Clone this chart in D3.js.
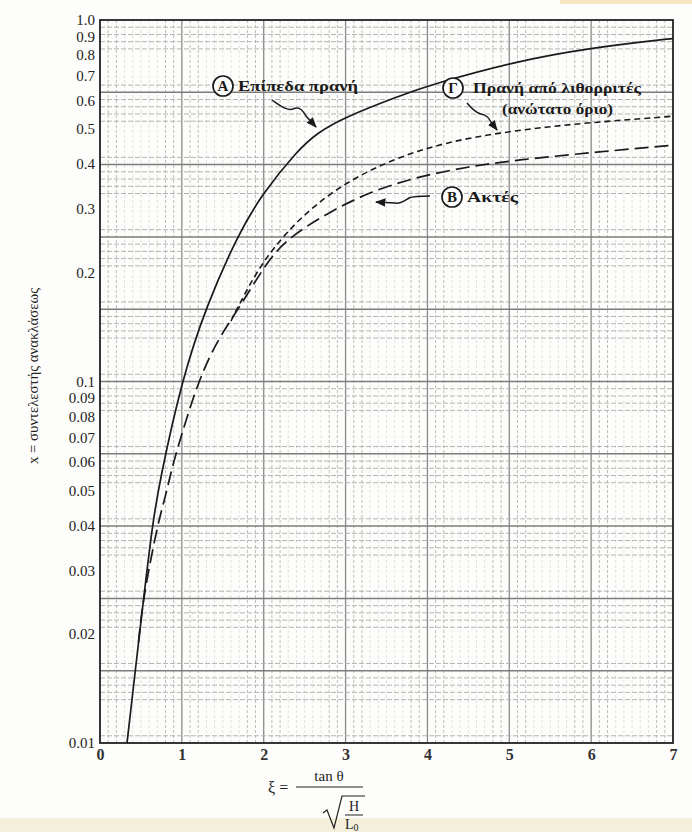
<!DOCTYPE html>
<html>
<head>
<meta charset="utf-8">
<script src="https://cdn.jsdelivr.net/npm/d3@7"></script>
<style>
  html, body { margin: 0; padding: 0; background: #fdfdfb; }
  svg { display: block; }
</style>
</head>
<body>
<svg id="chart" width="692" height="832"></svg>
<script>
// ---------------- data ----------------
const xTicks = [0, 1, 2, 3, 4, 5, 6, 7];
const yTickValues = [1.0, 0.9, 0.8, 0.7, 0.6, 0.5, 0.4, 0.3, 0.2, 0.1, 0.09, 0.08, 0.07, 0.06, 0.05, 0.04, 0.03, 0.02, 0.01];
const yTickLabels = ["1.0", "0.9", "0.8", "0.7", "0.6", "0.5", "0.4", "0.3", "0.2", "0.1", "0.09", "0.08", "0.07", "0.06", "0.05", "0.04", "0.03", "0.02", "0.01"];

// Curve A – smooth slopes (solid)
const xiA  = [0.33, 0.436, 0.53, 0.644, 0.733, 1.0, 1.295, 1.686, 1.98, 2.41, 2.65, 3.0, 3.66, 4.03, 5.09, 5.99, 6.94, 7.0];
const chiA = [0.010, 0.0162, 0.0248, 0.0408, 0.0536, 0.101, 0.161, 0.255, 0.33, 0.435, 0.487, 0.54, 0.617, 0.661, 0.77, 0.837, 0.886, 0.888];

// Curve B – beaches (long dash)
const xiB  = [0.47, 0.53, 0.71, 0.79, 0.855, 0.92, 1.2, 1.45, 1.71, 2.08, 2.36, 2.81, 3.3, 3.87, 4.5, 5.09, 6.1, 6.93, 7.0];
const chiB = [0.019, 0.0255, 0.0408, 0.0472, 0.0545, 0.0625, 0.101, 0.132, 0.161, 0.222, 0.255, 0.295, 0.335, 0.368, 0.393, 0.41, 0.432, 0.449, 0.45];

// Curve Γ – rubble mound slopes, upper limit (short dash)
const xiG  = [1.6, 1.75, 2.08, 2.81, 3.87, 4.89, 5.9, 6.93, 7.0];
const chiG = [0.147, 0.172, 0.234, 0.343, 0.443, 0.49, 0.519, 0.54, 0.542];

// ---------------- layout ----------------
const svg = d3.select("#chart");
const W = 692, H = 832;
const mLeft = 100, mRight = 673, mTop = 20, mBottom = 743;

const x = d3.scaleLinear().domain([0, 7]).range([mLeft, mRight]);
const y = d3.scaleLog().domain([0.01, 1]).range([mBottom, mTop]);

// paper tone strips (scan edges)
svg.append("rect").attr("x", 0).attr("y", 0).attr("width", W).attr("height", H).attr("fill", "#fdfdfb");
svg.append("rect").attr("x", 0).attr("y", 818).attr("width", W).attr("height", 14).attr("fill", "#f4f0dc");
svg.append("rect").attr("x", 560).attr("y", 0).attr("width", 132).attr("height", 4).attr("fill", "#f7e7c2");

const grid = svg.append("g");

// vertical minor grid (every 0.1)
const vMinor = d3.range(1, 70).map(i => i / 10).filter(v => Math.abs(v - Math.round(v)) > 1e-6);
grid.selectAll("line.vmin").data(vMinor).enter().append("line")
  .attr("x1", d => x(d)).attr("x2", d => x(d))
  .attr("y1", mTop).attr("y2", mBottom)
  .attr("stroke", d => {
    const f = Math.round((d - Math.floor(d)) * 10);
    return (f === 1 || f === 2 || f === 8 || f === 9) ? "#bdbdbd" : "#e2e2e2";
  })
  .attr("stroke-width", 1)
  .attr("stroke-dasharray", "3,2");

// vertical major grid (integers)
grid.selectAll("line.vmaj").data(xTicks.slice(1, -1)).enter().append("line")
  .attr("x1", d => x(d)).attr("x2", d => x(d))
  .attr("y1", mTop).attr("y2", mBottom)
  .attr("stroke", "#8a8a8a").attr("stroke-width", 1.3);

// horizontal grid: thick lines every 0.2 decade, clusters of thinner lines nearby
const hMajorExp = d3.range(1, 10).map(k => -0.2 * k);
const hMinorExp = [];
hMajorExp.concat([0, -2]).forEach(m => {
  [0.02, -0.02, -0.04, -0.06, -0.08].forEach(o => {
    const e = m + o;
    if (e < 0 && e > -2) hMinorExp.push(e);
  });
});
grid.selectAll("line.hmin").data(hMinorExp).enter().append("line")
  .attr("x1", mLeft).attr("x2", mRight)
  .attr("y1", d => y(Math.pow(10, d))).attr("y2", d => y(Math.pow(10, d)))
  .attr("stroke", "#b4b4b4").attr("stroke-width", 1)
  .attr("stroke-dasharray", "5,2");
grid.selectAll("line.hmaj").data(hMajorExp).enter().append("line")
  .attr("x1", mLeft).attr("x2", mRight)
  .attr("y1", d => y(Math.pow(10, d))).attr("y2", d => y(Math.pow(10, d)))
  .attr("stroke", "#7c7c7c").attr("stroke-width", 1.5);

// frame
svg.append("rect").attr("x", mLeft).attr("y", mTop)
  .attr("width", mRight - mLeft).attr("height", mBottom - mTop)
  .attr("fill", "none").attr("stroke", "#222").attr("stroke-width", 1.8);

// axes (labels only, via d3 axes)
const serif = "'Liberation Serif', 'DejaVu Serif', serif";
const yAxis = d3.axisLeft(y).tickValues(yTickValues)
  .tickFormat((d, i) => yTickLabels[i]).tickSize(0).tickPadding(5);
const gy = svg.append("g").attr("transform", `translate(${mLeft},0)`).call(yAxis);
gy.select(".domain").remove();
gy.selectAll("text").attr("font-family", serif).attr("font-size", 15).attr("fill", "#222");

const xAxis = d3.axisBottom(x).tickValues(xTicks).tickFormat(d3.format("d")).tickSize(0).tickPadding(6);
const gx = svg.append("g").attr("transform", `translate(0,${mBottom})`).call(xAxis);
gx.select(".domain").remove();
gx.selectAll("text").attr("font-family", serif).attr("font-size", 16).attr("font-weight", "bold").attr("fill", "#333");

// curves
const line = d3.line().x(d => x(d[0])).y(d => y(d[1])).curve(d3.curveBasis);
const dataA = xiA.map((v, i) => [v, chiA[i]]);
const dataB = xiB.map((v, i) => [v, chiB[i]]);
const dataG = xiG.map((v, i) => [v, chiG[i]]);

svg.append("path").attr("d", line(dataA)).attr("fill", "none")
  .attr("stroke", "#1a1a1a").attr("stroke-width", 1.7);
svg.append("path").attr("d", line(dataB)).attr("fill", "none")
  .attr("stroke", "#1a1a1a").attr("stroke-width", 1.7).attr("stroke-dasharray", "14,6");
svg.append("path").attr("d", line(dataG)).attr("fill", "none")
  .attr("stroke", "#1a1a1a").attr("stroke-width", 1.6).attr("stroke-dasharray", "6,4");

// annotations
const defs = svg.append("defs");
defs.append("marker").attr("id", "ah").attr("viewBox", "0 0 10 10")
  .attr("refX", 9).attr("refY", 5).attr("markerWidth", 7).attr("markerHeight", 7)
  .attr("orient", "auto-start-reverse")
  .append("path").attr("d", "M0,1 L10,5 L0,9 Z").attr("fill", "#1a1a1a");

const ann = svg.append("g").attr("font-family", serif).attr("fill", "#1a1a1a");

function badge(cx, cy, letter) {
  ann.append("circle").attr("cx", cx).attr("cy", cy).attr("r", 10)
    .attr("fill", "#fdfdfb").attr("stroke", "#1a1a1a").attr("stroke-width", 1.7);
  ann.append("text").attr("x", cx).attr("y", cy + 5.3).attr("text-anchor", "middle")
    .attr("font-size", 15).attr("font-weight", "bold").text(letter);
}
function label(x0, y0, txt, len) {
  ann.append("text").attr("x", x0).attr("y", y0).attr("font-size", 15)
    .attr("font-weight", "bold").attr("textLength", len).attr("lengthAdjust", "spacingAndGlyphs").text(txt);
}

badge(223, 86, "A");
label(238, 91, "Επίπεδα πρανή", 120);
badge(453, 88, "Γ");
label(473, 93, "Πρανή από λιθορριτές", 168);
label(502, 114, "(ανώτατο όριο)", 111);
badge(452, 197, "B");
label(467, 202, "Ακτές", 51);

const arrowStyle = p => p.attr("fill", "none").attr("stroke", "#1a1a1a").attr("stroke-width", 1.5).attr("marker-end", "url(#ah)");
arrowStyle(ann.append("path").attr("d", "M272,100 C281,106 287,111 293,109 C300,106 303,111 306,116 L316,127"));
arrowStyle(ann.append("path").attr("d", "M467,103 C472,109 476,113 481,114 C487,115 489,118 491,122 L497,130"));
arrowStyle(ann.append("path").attr("d", "M430,196 C421,196 414,196 409,198 C404,201 401,204 395,203 L376,202"));

// axis titles
svg.append("text")
  .attr("transform", "translate(38,376) rotate(-90)")
  .attr("text-anchor", "middle").attr("font-family", serif).attr("font-size", 15)
  .attr("textLength", 176).attr("lengthAdjust", "spacingAndGlyphs")
  .attr("fill", "#222").text("x = συντελεστής ανακλάσεως");

const xl = svg.append("g").attr("font-family", serif).attr("fill", "#222");
xl.append("text").attr("x", 268).attr("y", 793).attr("font-size", 16).text("ξ =");
xl.append("text").attr("x", 329).attr("y", 781).attr("text-anchor", "middle").attr("font-size", 15).text("tan θ");
xl.append("line").attr("x1", 296).attr("x2", 363).attr("y1", 787).attr("y2", 787).attr("stroke", "#222").attr("stroke-width", 1.1);
xl.append("path").attr("d", "M323,813 L327,810 L334,828 L342,796 L365,796")
  .attr("fill", "none").attr("stroke", "#222").attr("stroke-width", 1.2);
xl.append("text").attr("x", 354).attr("y", 811).attr("text-anchor", "middle").attr("font-size", 14).text("H");
xl.append("line").attr("x1", 345).attr("x2", 363).attr("y1", 815).attr("y2", 815).attr("stroke", "#222").attr("stroke-width", 1);
const lt = xl.append("text").attr("x", 345).attr("y", 829).attr("font-size", 14);
lt.append("tspan").text("L");
lt.append("tspan").attr("font-size", 10).attr("dy", 2).text("0");
</script>
</body>
</html>
